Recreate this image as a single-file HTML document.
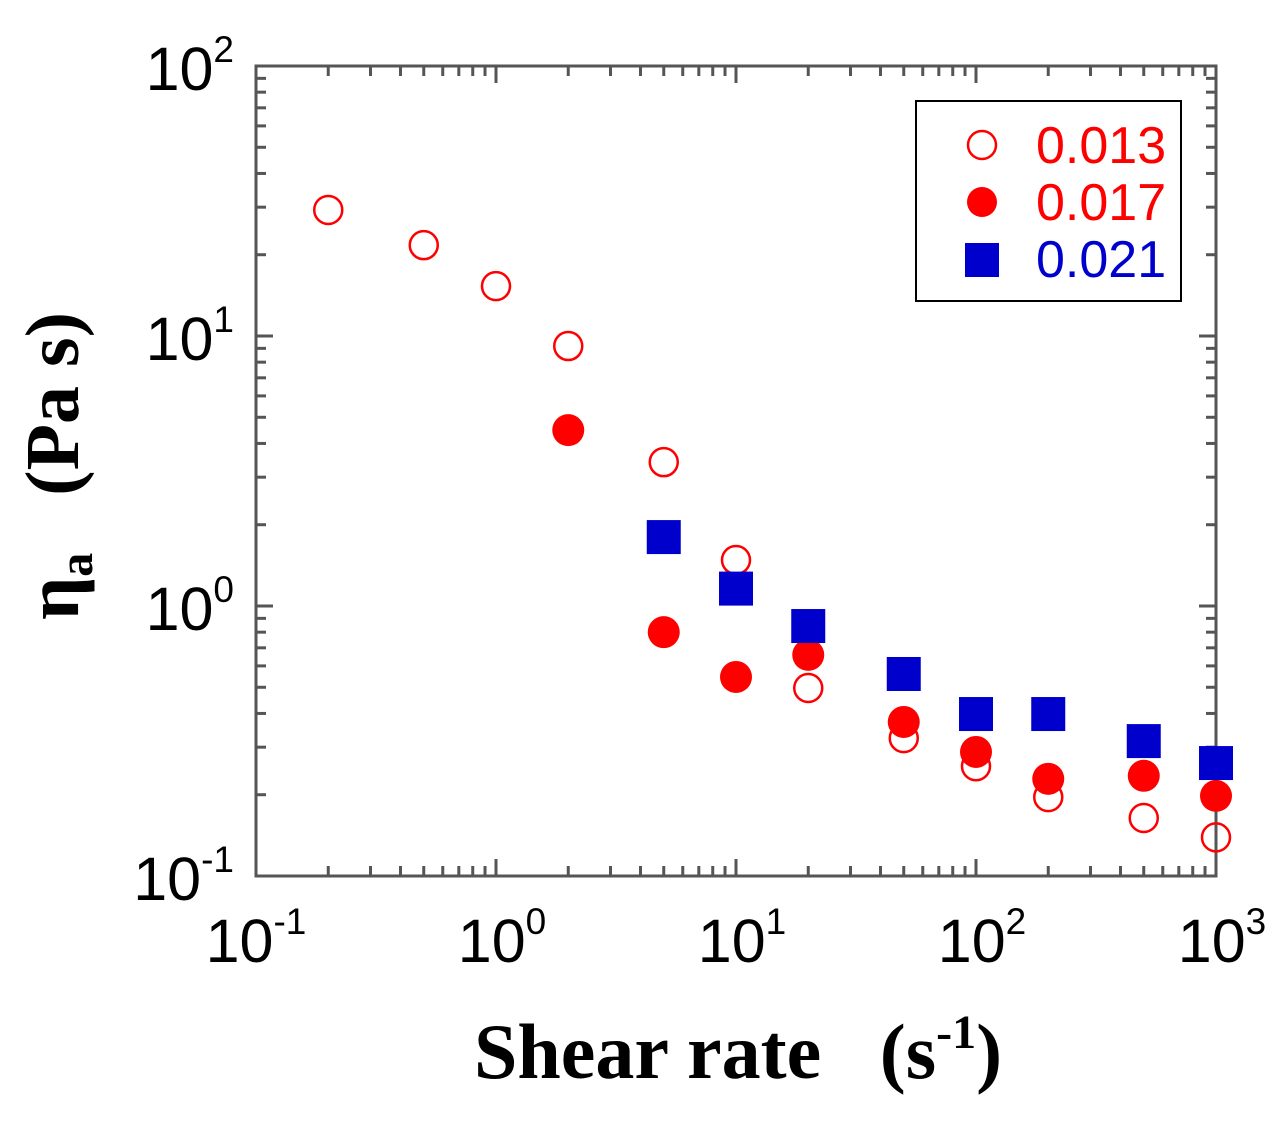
<!DOCTYPE html>
<html><head><meta charset="utf-8"><style>
body{margin:0;background:#fff;}
svg{display:block;}
</style></head><body>
<svg id="chart" width="1284" height="1125" viewBox="0 0 1284 1125" xmlns="http://www.w3.org/2000/svg">
<g id="ticks"></g>
<rect x="256" y="66" width="960" height="810" fill="none" stroke="#555" stroke-width="3"/>
<g id="xlabels" font-family="Liberation Sans, sans-serif" font-size="61" fill="#000"></g>
<g id="ylabels" font-family="Liberation Sans, sans-serif" font-size="61" fill="#000"></g>
<g id="marks"></g>
<text x="738" y="1078" text-anchor="middle" font-family="Liberation Serif, serif" font-weight="bold" font-size="78">Shear rate &#160; (s<tspan font-size="48" dy="-30">-1</tspan><tspan dy="30">)</tspan></text>
<text transform="translate(78,466) rotate(-90)" text-anchor="middle" font-family="Liberation Serif, serif" font-weight="bold" font-size="76">η<tspan font-size="48" dy="14">a</tspan><tspan dy="-14"> &#160; (Pa s)</tspan></text>
<g>
<rect x="916" y="101" width="265" height="200" fill="#fff" stroke="#000" stroke-width="2"/>
<circle cx="982" cy="145" r="14" fill="none" stroke="#f00" stroke-width="2.5"/>
<text x="1036" y="163" font-family="Liberation Sans, sans-serif" font-size="52" fill="#f00">0.013</text>
<circle cx="982" cy="202" r="15" fill="#f00"/>
<text x="1036" y="220" font-family="Liberation Sans, sans-serif" font-size="52" fill="#f00">0.017</text>
<rect x="965" y="243" width="34" height="34" fill="#00c"/>
<text x="1036" y="277" font-family="Liberation Sans, sans-serif" font-size="52" fill="#00c">0.021</text>
</g>
</svg>
<script>
const shearRates=[0.2,0.5,1,2,5,10,20,50,100,200,500,1000];
const eta013=[29.3,21.7,15.3,9.18,3.41,1.48,0.497,0.324,0.255,0.196,0.164,0.139];
const shear017=[2,5,10,20,50,100,200,500,1000];
const eta017=[4.48,0.80,0.546,0.659,0.372,0.288,0.229,0.235,0.198];
const shear021=[5,10,20,50,100,200,500,1000];
const eta021=[1.80,1.16,0.843,0.560,0.398,0.398,0.316,0.262];
const xTickExps=[-1,0,1,2,3];
const yTickExps=[-1,0,1,2];

const NS="http://www.w3.org/2000/svg";
function X(v){return 256+(Math.log10(v)+1)*240;}
function Y(v){return 606-Math.log10(v)*270;}
function mk(tag,attrs,parent){const e=document.createElementNS(NS,tag);for(const k in attrs)e.setAttribute(k,attrs[k]);parent.appendChild(e);return e;}
const ticks=document.getElementById('ticks');
for(let d=-1;d<3;d++)for(let m=1;m<10;m++){
  const v=m*Math.pow(10,d);const x=X(v);const L=m===1?17:10;
  let t=mk('line',{x1:x,x2:x,y1:876,y2:876-L,stroke:'#555','stroke-width':3},ticks);
  
  
  t=mk('line',{x1:x,x2:x,y1:66,y2:66+L,stroke:'#555','stroke-width':3},ticks);
  
  
}
for(let d=-1;d<2;d++)for(let m=1;m<10;m++){
  const v=m*Math.pow(10,d);const y=Y(v);const L=m===1?17:10;
  let t=mk('line',{x1:256,x2:256+L,y1:y,y2:y,stroke:'#555','stroke-width':3},ticks);
  
  
  t=mk('line',{x1:1216,x2:1216-L,y1:y,y2:y,stroke:'#555','stroke-width':3},ticks);
  
  
}
function label(parent,x,y,exp,anchor){
  const t=mk('text',{x:x,y:y,'text-anchor':anchor},parent);
  
  
  t.appendChild(document.createTextNode('10'));
  const s=mk('tspan',{'font-size':37,dy:-28},t);s.textContent=String(exp);
}
const xl=document.getElementById('xlabels');
xTickExps.forEach(e=>label(xl,X(Math.pow(10,e))+(e<0?0:6),962,e,'middle'));
const yl=document.getElementById('ylabels');
yTickExps.forEach(e=>label(yl,234,Y(Math.pow(10,e))+24,e,'end'));
const marks=document.getElementById('marks');
shearRates.forEach((s,i)=>{const c=mk('circle',{cx:X(s),cy:Y(eta013[i]),r:14,fill:'none',stroke:'#f00','stroke-width':2.5},marks);
  
  });
shear017.forEach((s,i)=>{const c=mk('circle',{cx:X(s),cy:Y(eta017[i]),r:16,fill:'#f00'},marks);
  
  });
shear021.forEach((s,i)=>{const c=mk('rect',{x:X(s)-17,y:Y(eta021[i])-17,width:34,height:34,fill:'#00c'},marks);
  
  });
</script>
</body></html>
